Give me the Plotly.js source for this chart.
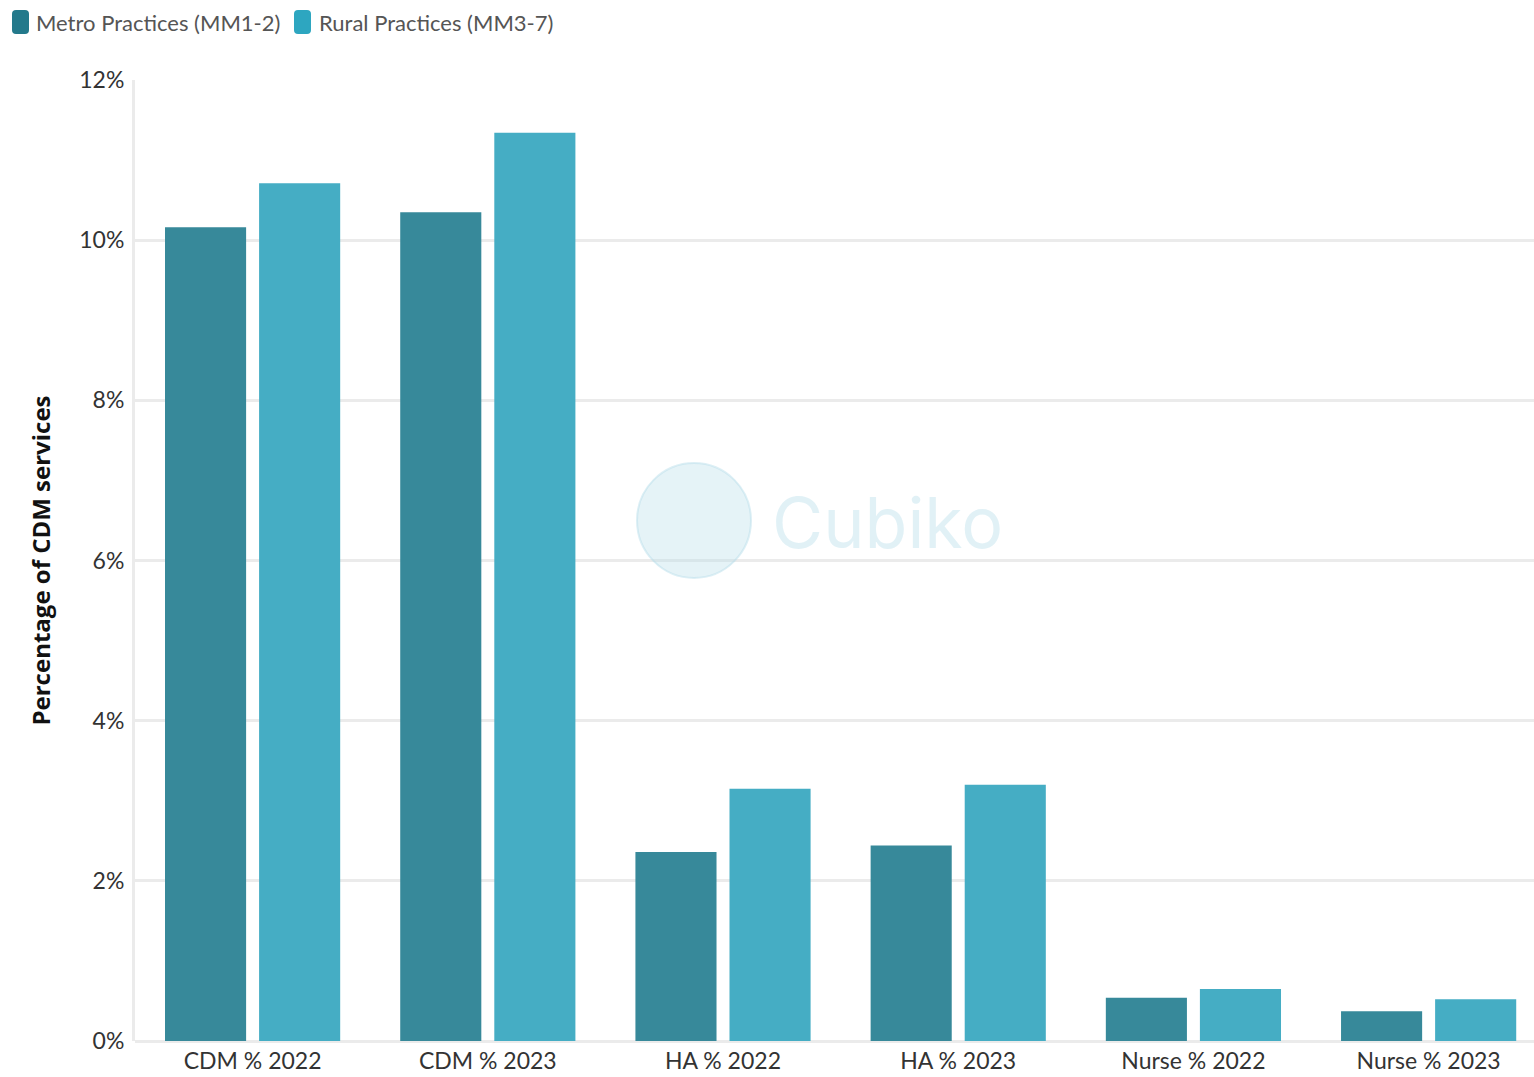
<!DOCTYPE html>
<html>
<head>
<meta charset="utf-8">
<script src="https://cdn.plot.ly/plotly-3.0.1.min.js"></script>
<style>html,body{margin:0;padding:0;background:#fff;}#chart{width:1534px;height:1077px;}</style>
</head>
<body>
<div id="chart"></div>
<script>
const categories = ["CDM % 2022", "CDM % 2023", "HA % 2022", "HA % 2023", "Nurse % 2022", "Nurse % 2023"];
const metroValues = [10.16, 10.35, 2.36, 2.44, 0.54, 0.37];
const ruralValues = [10.71, 11.34, 3.15, 3.20, 0.65, 0.52];
const seriesNames = ["Metro Practices (MM1-2)", "Rural Practices (MM3-7)"];
const seriesColors = ['#37899A', '#45ADC4'];
const legendColors = ['#23798B', '#2DA6C0'];
const yTicks = [0, 2, 4, 6, 8, 10, 12];

const fontFam = "Lato, 'Open Sans', sans-serif";
const traces = [
  {type: 'bar', name: seriesNames[0], x: categories, y: metroValues,
   marker: {color: seriesColors[0], line: {width: 0}}, hoverinfo: 'y'},
  {type: 'bar', name: seriesNames[1], x: categories, y: ruralValues,
   marker: {color: seriesColors[1], line: {width: 0}}, hoverinfo: 'y'}
];

// pixel -> paper helpers (plot area 135..1534 x, 80..1041 y)
const PL = 135, PW = 1399, PB = 1041, PH = 961;
const px = v => (v - PL) / PW;
const py = v => (PB - v) / PH;

function roundRect(x0, y0, x1, y1, r) {
  const X = v => px(v).toFixed(5), Y = v => py(v).toFixed(5);
  return `M ${X(x0 + r)} ${Y(y0)} L ${X(x1 - r)} ${Y(y0)} Q ${X(x1)} ${Y(y0)} ${X(x1)} ${Y(y0 + r)} ` +
         `L ${X(x1)} ${Y(y1 - r)} Q ${X(x1)} ${Y(y1)} ${X(x1 - r)} ${Y(y1)} L ${X(x0 + r)} ${Y(y1)} ` +
         `Q ${X(x0)} ${Y(y1)} ${X(x0)} ${Y(y1 - r)} L ${X(x0)} ${Y(y0 + r)} Q ${X(x0)} ${Y(y0)} ${X(x0 + r)} ${Y(y0)} Z`;
}

const legendMarkerX = [12, 294];
const legendTextX = [34, 317];

const shapes = [
  {type: 'circle', xref: 'paper', yref: 'paper', x0: px(637), x1: px(751), y0: py(578), y1: py(463),
   fillcolor: 'rgba(180,220,232,0.35)', line: {color: 'rgba(180,220,232,0.45)', width: 2}, layer: 'above'}
];
const annotations = [
  {xref: 'paper', yref: 'paper', x: px(887), y: py(522), text: 'Cubiko', showarrow: false,
   font: {size: 70, color: 'rgba(170,215,228,0.35)', family: "Inter, 'Noto Sans', sans-serif"}}
];
seriesNames.forEach((n, i) => {
  shapes.push({type: 'path', xref: 'paper', yref: 'paper',
    path: roundRect(legendMarkerX[i], 10, legendMarkerX[i] + 17, 34, 4),
    fillcolor: legendColors[i], line: {width: 0}, layer: 'above'});
  annotations.push({xref: 'paper', yref: 'paper', x: px(legendTextX[i]), y: py(22), xanchor: 'left', yanchor: 'middle',
    text: n, showarrow: false, font: {size: 22, color: '#555', family: fontFam}});
});

const layout = {
  width: 1534, height: 1077,
  margin: {l: 135, r: 0, t: 80, b: 36, autoexpand: false},
  paper_bgcolor: '#fff', plot_bgcolor: '#fff',
  font: {family: fontFam, color: '#333'},
  barmode: 'group', bargap: 0.2, bargroupgap: 0.138,
  showlegend: false,
  xaxis: {
    type: 'category', range: [-0.5, 5.448], showgrid: false,
    showline: false, ticks: '', ticklabelstandoff: 4, tickfont: {size: 23, color: '#333'}, fixedrange: true
  },
  yaxis: {
    range: [0, 12], tickvals: yTicks, ticktext: yTicks.map(v => v + '%'),
    showgrid: true, gridcolor: '#ebebeb', gridwidth: 3,
    zeroline: true, zerolinecolor: '#ebebeb', zerolinewidth: 3,
    showline: true, linecolor: '#ebebeb', linewidth: 3,
    ticks: '', ticklabelstandoff: 3, tickfont: {size: 23, color: '#333'},
    title: {text: 'Percentage of CDM services', font: {size: 24, color: '#111', family: "'Open Sans', sans-serif", weight: 700}, standoff: 22},
    fixedrange: true
  },
  shapes: shapes,
  annotations: annotations
};

Plotly.newPlot('chart', traces, layout, {displayModeBar: false, staticPlot: true});
</script>
</body>
</html>
